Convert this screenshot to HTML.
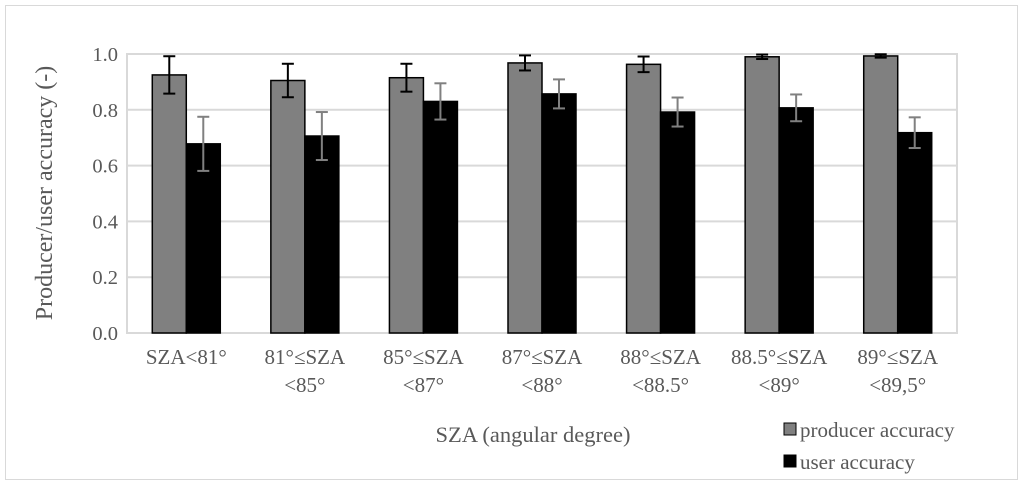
<!DOCTYPE html>
<html><head><meta charset="utf-8"><style>
body{margin:0;background:#fff;}
svg text{font-family:"Liberation Serif",serif;fill:#595959;}
</style></head><body>
<svg id="chart" width="1024" height="485" xmlns="http://www.w3.org/2000/svg">
<rect x="5.5" y="5.5" width="1012" height="474" fill="#fff" stroke="#d9d9d9"/>
<g id="grid"></g><g id="bars"></g><g id="labels"></g>
<text x="52" y="193" font-size="24" text-anchor="middle" transform="rotate(-90 52 193)">Producer/user accuracy (-)</text>
<text x="533" y="442" font-size="22.5" text-anchor="middle">SZA (angular degree)</text>
<g>
<rect x="784" y="423" width="12" height="12" fill="#808080" stroke="#000"/>
<text x="800" y="437" font-size="21">producer accuracy</text>
<rect x="784" y="455" width="12" height="12" fill="#000" stroke="#000"/>
<text x="800" y="469" font-size="21">user accuracy</text>
</g>
</svg>
<script>
const categories1=["SZA<81°","81°≤SZA","85°≤SZA","87°≤SZA","88°≤SZA","88.5°≤SZA","89°≤SZA"];
const categories2=["","<85°","<87°","<88°","<88.5°","<89°","<89,5°"];
const producer=[0.925,0.905,0.915,0.968,0.963,0.99,0.993];
const producerErr=[0.067,0.06,0.05,0.027,0.028,0.008,0.006];
const user=[0.678,0.706,0.83,0.857,0.792,0.807,0.718];
const userErr=[0.097,0.086,0.065,0.052,0.052,0.048,0.055];
const yTicks=[0,0.2,0.4,0.6,0.8,1.0];
const NS="http://www.w3.org/2000/svg";
const L=127,R=957,T=54,B=333;
const y=v=>B-v*(B-T);
const bw=(R-L)/categories1.length;
const x=i=>L+i*bw;
function mk(tag,attrs,parent){const e=document.createElementNS(NS,tag);for(const k in attrs)e.setAttribute(k,attrs[k]);document.getElementById(parent).appendChild(e);return e;}
yTicks.forEach(t=>{
 const g=mk('line',{x1:L,x2:R,y1:y(t),y2:y(t),stroke:'#d9d9d9','stroke-width':2},'grid');
 
 
 const tx=mk('text',{x:L-9,y:y(t)+7,'font-size':20.5,'text-anchor':'end'},'labels');
 tx.textContent=t.toFixed(1);
 
 
});
const box=mk('rect',{x:L,y:T,width:R-L,height:B-T,fill:'none',stroke:'#d9d9d9','stroke-width':2},'grid');


const w=34;
function err(cx,v,e,col){
 [[cx,y(v+e),cx,y(v-e)],[cx-6,y(v+e),cx+6,y(v+e)],[cx-6,y(v-e),cx+6,y(v-e)]].forEach(p=>{
  const l=mk('line',{x1:p[0],y1:p[1],x2:p[2],y2:p[3],stroke:col,'stroke-width':2},'bars');
  
  
 });
}
categories1.forEach((c,i)=>{
 const cx=x(i)+bw/2;
 const p=mk('rect',{x:cx-w,y:y(producer[i]),width:w,height:B-y(producer[i]),fill:'#808080',stroke:'#000','stroke-width':1.5},'bars');
 
 
 const u=mk('rect',{x:cx,y:y(user[i]),width:w,height:B-y(user[i]),fill:'#000',stroke:'#000','stroke-width':1.5},'bars');
 
 
 err(cx-w/2,producer[i],producerErr[i],'#000');
 err(cx+w/2,user[i],userErr[i],'#808080');
 const t1=mk('text',{x:cx,y:364,'font-size':21,'text-anchor':'middle'},'labels');
 t1.textContent=c;
 
 
 if(categories2[i]){
  const t2=mk('text',{x:cx,y:392,'font-size':21,'text-anchor':'middle'},'labels');
  t2.textContent=categories2[i];
  
  
 }
});
</script>
</body></html>
